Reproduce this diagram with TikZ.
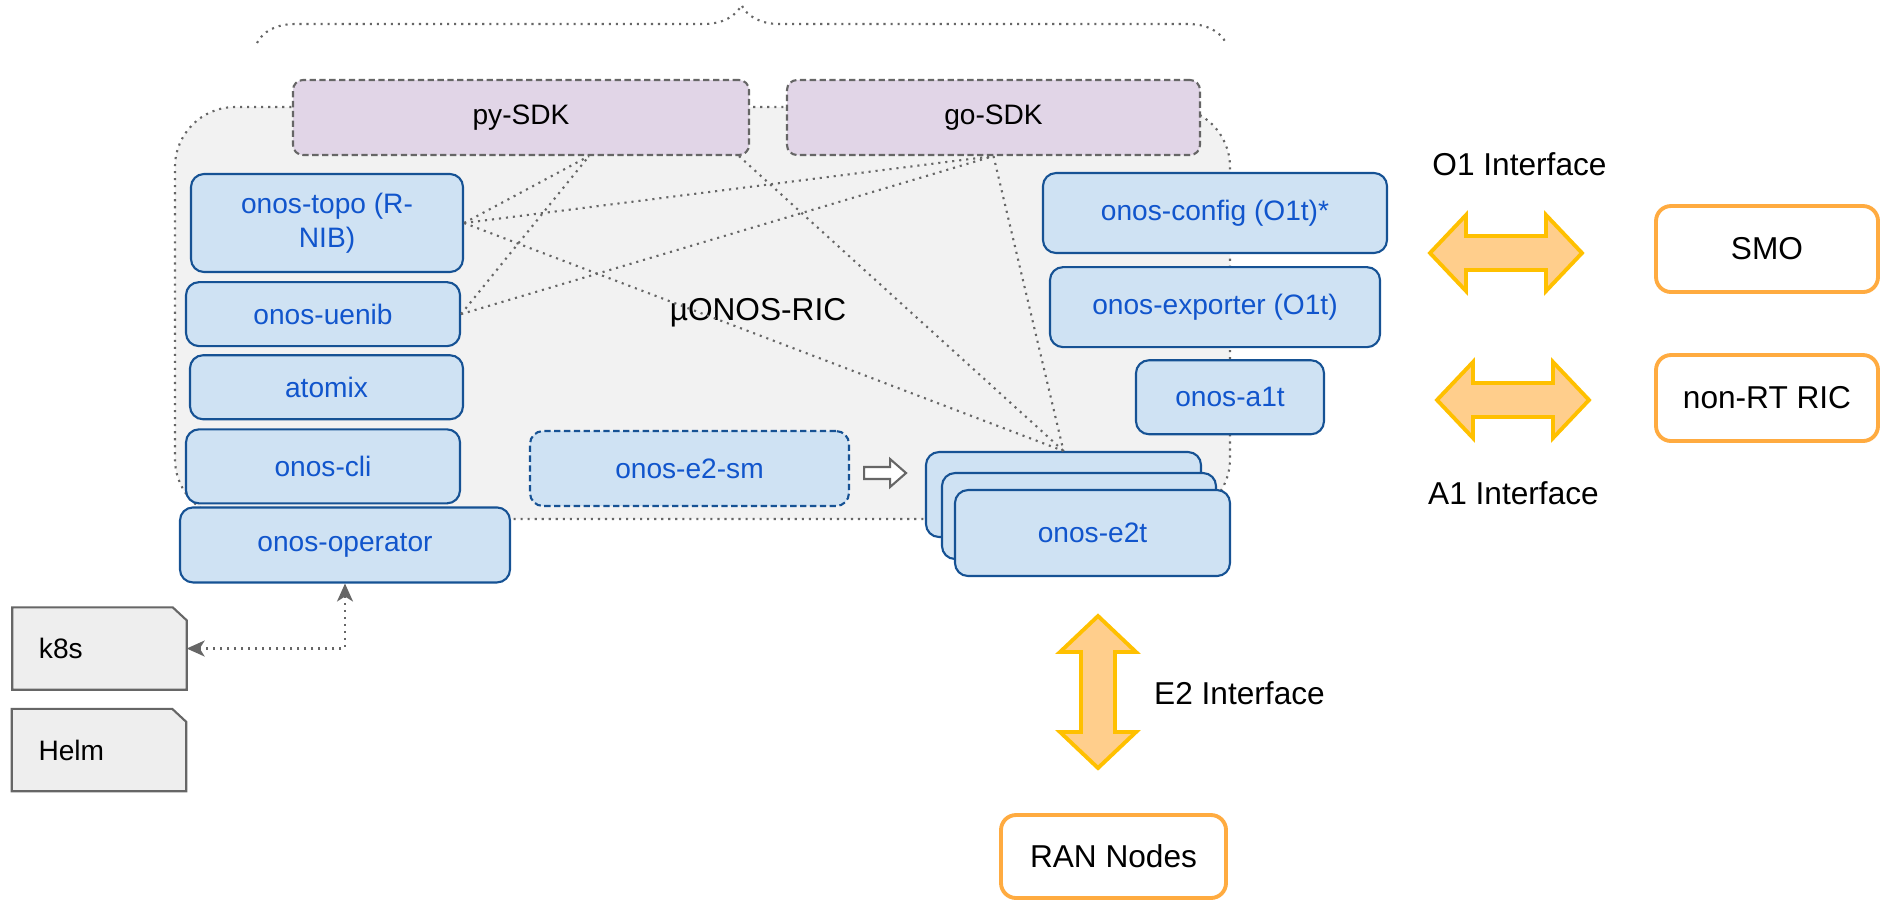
\documentclass[tikz,border=0pt]{standalone}
\usepackage{fontspec}
\setmainfont{Liberation Sans}
\definecolor{RicGray}{RGB}{242, 242, 242}
\definecolor{EdgeGray}{RGB}{102, 102, 102}
\definecolor{SdkPurple}{RGB}{225, 213, 231}
\definecolor{BoxBlue}{RGB}{207, 226, 243}
\definecolor{EdgeBlue}{RGB}{22, 82, 148}
\definecolor{TextBlue}{RGB}{17, 85, 204}
\definecolor{ExtOrange}{RGB}{255, 171, 64}
\definecolor{Gold}{RGB}{255, 192, 0}
\definecolor{Peach}{RGB}{255, 206, 140}
\definecolor{DocGray}{RGB}{238, 238, 238}
\usetikzlibrary{arrows.meta, positioning, calc, decorations.pathreplacing, backgrounds}

\tikzset{
  dblarrow/.pic={\draw[draw=Gold, fill=Peach, line width=1.1pt, line join=miter] (0,0) -- (0.36,0.38) -- (0.36,0.17) -- (1.16,0.17) -- (1.16,0.38) -- (1.52,0) -- (1.16,-0.38) -- (1.16,-0.17) -- (0.36,-0.17) -- (0.36,-0.38) -- cycle;}
}

\begin{document}
\begin{tikzpicture}[every node/.style={font=\fontsize{8}{9.6}\selectfont},
    ricarea/.style={draw=EdgeGray, fill=RicGray, line width=0.6pt, dash pattern=on 0.6pt off 1.4pt, rounded corners=0.6cm},
    ricbox/.style={draw=EdgeBlue, fill=BoxBlue, text=TextBlue, rounded corners=0.13cm, line width=0.6pt, inner sep=0pt, align=center},
    sdkbox/.style={draw=EdgeGray, fill=SdkPurple, rounded corners=0.1cm, line width=0.6pt, dash pattern=on 1.8pt off 1pt},
    extbox/.style={draw=ExtOrange, fill=white, rounded corners=0.15cm, line width=1.1pt, font=\fontsize{9}{11}\selectfont},
    docbox/.style={inner xsep=0.26cm, text width=1.21cm, minimum height=0.81cm, align=left},
    iflabel/.style={font=\fontsize{9}{11}\selectfont},
    link/.style={draw=EdgeGray, line width=0.6pt, dash pattern=on 0.6pt off 1.4pt}]
    \useasboundingbox (0,0) rectangle (18.82,-9.02);

    \draw[link, decorate, decoration={brace, amplitude=0.38cm}] (2.57,-0.43) -- (12.26,-0.43);
    \node[ricarea, minimum width=10.55cm, minimum height=4.12cm] (ric) at (7.025,-3.13) {};
    \node[iflabel] (riclabel) at ([xshift=0.555cm]ric.center) {µONOS-RIC};

    \node[sdkbox, minimum width=4.56cm, minimum height=0.75cm] (pysdk) at (5.21,-1.175) {py-SDK};
    \node[sdkbox, minimum width=4.13cm, minimum height=0.75cm] (gosdk) at (9.935,-1.175) {go-SDK};

    \node[ricbox, minimum width=2.72cm, minimum height=0.98cm] (topo) at (3.27,-2.23) {onos-topo (R-\\NIB)};
    \node[ricbox, minimum width=2.74cm, minimum height=0.64cm, below=0.08cm of topo, xshift=-0.04cm] (uenib) {onos-uenib};
    \node[ricbox, minimum width=2.73cm, minimum height=0.64cm, below=0.07cm of uenib, xshift=0.035cm] (atomix) {atomix};
    \node[ricbox, minimum width=2.74cm, minimum height=0.74cm, below=0.08cm of atomix, xshift=-0.035cm] (cli) {onos-cli};
    \node[ricbox, minimum width=3.30cm, minimum height=0.75cm, below=0.02cm of cli.south west, anchor=north west, xshift=-0.06cm] (oper) {onos-operator};

    \node[ricbox, minimum width=3.19cm, minimum height=0.75cm, dash pattern=on 1.8pt off 1pt] (e2sm) at (6.895,-4.685) {onos-e2-sm};
    \node[ricbox, minimum width=2.75cm, minimum height=0.85cm] (e2tback) at (10.635,-4.945) {};
    \node[ricbox, minimum width=2.74cm, minimum height=0.86cm] (e2tmid) at (10.79,-5.16) {};
    \node[ricbox, minimum width=2.75cm, minimum height=0.86cm] (e2t) at (10.925,-5.33) {onos-e2t};

    \node[ricbox, minimum width=3.44cm, minimum height=0.80cm] (config) at (12.15,-2.13) {onos-config (O1t)*};
    \node[ricbox, minimum width=3.30cm, minimum height=0.80cm, below=0.12cm of config] (exporter) {onos-exporter (O1t)};
    \node[ricbox, minimum width=1.88cm, minimum height=0.74cm, below=0.11cm of exporter, xshift=0.15cm] (aot) {onos-a1t};

    \node[extbox, minimum width=2.22cm, minimum height=0.86cm] (smo) at (17.67,-2.49) {SMO};
    \node[extbox, minimum width=2.22cm, minimum height=0.86cm] (nonrt) at (17.67,-3.98) {non-RT RIC};
    \node[extbox, minimum width=2.25cm, minimum height=0.83cm] (ran) at (11.135,-8.565) {RAN Nodes};

    \node[iflabel] (o1) at (15.195,-1.64) {O1 Interface};
    \node[iflabel] (a1) at (15.135,-4.93) {A1 Interface};
    \node[iflabel] (e2) at (12.395,-6.93) {E2 Interface};
    \pic at (14.30,-2.53) {dblarrow};
    \pic at (14.37,-4.00) {dblarrow};
    \pic[rotate=-90] at (10.98,-6.16) {dblarrow};

    \node[docbox] (k8s) at (0.995,-6.485) {k8s};
    \node[docbox] (helm) at (0.99,-7.50) {Helm};
    \begin{scope}[on background layer]
        \foreach \d in {k8s,helm}
            \draw[draw=EdgeGray, fill=DocGray, line width=0.6pt] (\d.north west) -- ([xshift=-0.14cm]\d.north east) -- ([yshift=-0.13cm]\d.north east) -- (\d.south east) -- (\d.south west) -- cycle;
    \end{scope}

    \coordinate (pyport) at ([xshift=0.68cm]pysdk.south);
    \coordinate (pyport2) at ([xshift=2.18cm]pysdk.south);
    \draw[link] (topo.east) -- (pyport);
    \draw[link] (uenib.east) -- (pyport);
    \draw[link] (topo.east) -- (gosdk.south);
    \draw[link] (uenib.east) -- (gosdk.south);
    \draw[link] (topo.east) -- (e2tback.north);
    \draw[link] (pyport2) -- (e2tback.north);
    \draw[link] (gosdk.south) -- (e2tback.north);
    \draw[link, {Stealth[length=0.18cm, width=0.16cm, inset=0.05cm]}-{Stealth[length=0.18cm, width=0.16cm, inset=0.05cm]}] (oper.south) |- (k8s.east);
    \draw[draw=EdgeGray, fill=white, line width=0.6pt] ([xshift=0.14cm, yshift=0.015cm]e2sm.east) -- ++(0.26,0) -- ++(0,0.08) -- ++(0.16,-0.14) -- ++(-0.16,-0.14) -- ++(0,0.08) -- ++(-0.26,0) -- cycle;
\end{tikzpicture}
\end{document}
